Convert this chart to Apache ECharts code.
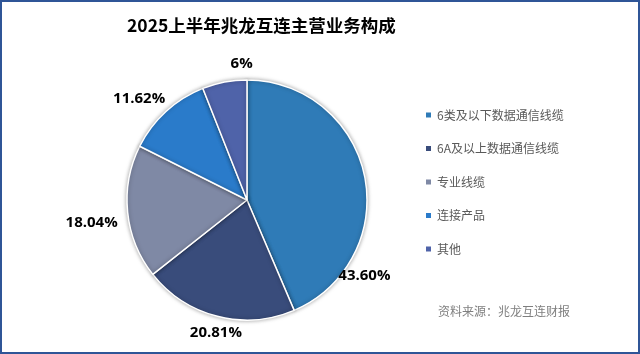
<!DOCTYPE html>
<html>
<head>
<meta charset="utf-8">
<script src="https://cdn.jsdelivr.net/npm/echarts@6/dist/echarts.min.js"></script>
<style>
  html, body { margin: 0; padding: 0; background: #fff; }
  #main { width: 640px; height: 354px; box-sizing: border-box; border: 2px solid #2f5597; }
</style>
</head>
<body>
<div id="main"></div>
<script>
// 数据
var names = ['6类及以下数据通信线缆', '6A及以上数据通信线缆', '专业线缆', '连接产品', '其他'];
var values = [43.60, 20.81, 18.04, 11.62, 6];
var labels = ['43.60%', '20.81%', '18.04%', '11.62%', '6%'];
var colors = ['#2f7bb7', '#394c7b', '#7f89a5', '#2a7bca', '#4f63a9'];

// 标签微调（像 Excel 那样贴在扇区外侧）
var labelShift = [[-41, 102], [32, 7], [5, 10], [11, -5], [35, -9]];

var chart = echarts.init(document.getElementById('main'), null, { renderer: 'canvas' });

var seriesData = [];
for (var i = 0; i < names.length; i++) {
    seriesData.push({
        name: names[i],
        value: values[i],
        itemStyle: { color: colors[i] },
        label: { formatter: labels[i] }
    });
}

chart.setOption({
    animation: false,
    title: [{
        text: '2025上半年兆龙互连主营业务构成',
        left: 120,
        top: 10,
        textStyle: {
            fontFamily: 'Noto Sans CJK SC',
            fontSize: 17.5,
            fontWeight: 'bold',
            color: '#000'
        }
    }, {
        text: '资料来源：兆龙互连财报',
        left: 431,
        top: 298,
        textStyle: {
            fontFamily: 'Noto Sans CJK SC',
            fontSize: 12,
            fontWeight: 'normal',
            color: '#7f7f7f'
        }
    }],
    legend: {
        orient: 'vertical',
        left: 417,
        top: 102,
        itemWidth: 7,
        itemHeight: 7,
        itemGap: 21.5,
        icon: 'rect',
        data: names,
        textStyle: {
            fontFamily: 'Noto Sans CJK SC',
            fontSize: 12,
            color: '#595959'
        }
    },
    series: [{
        type: 'pie',
        center: [245, 198],
        radius: [0, 120],
        startAngle: 90,
        clockwise: true,
        avoidLabelOverlap: false,
        data: seriesData,
        itemStyle: {
            borderColor: '#fff',
            borderWidth: 1.5,
            shadowBlur: 4,
            shadowColor: 'rgba(0,0,0,0.35)'
        },
        label: {
            show: true,
            position: 'outside',
            fontFamily: 'Open Sans',
            fontSize: 15,
            fontWeight: 'bold',
            color: '#000'
        },
        labelLine: { show: false, length: 10, length2: 0 },
        labelLayout: function (p) {
            var s = labelShift[p.dataIndex];
            return { dx: s[0], dy: s[1] };
        }
    }]
});
</script>
</body>
</html>
